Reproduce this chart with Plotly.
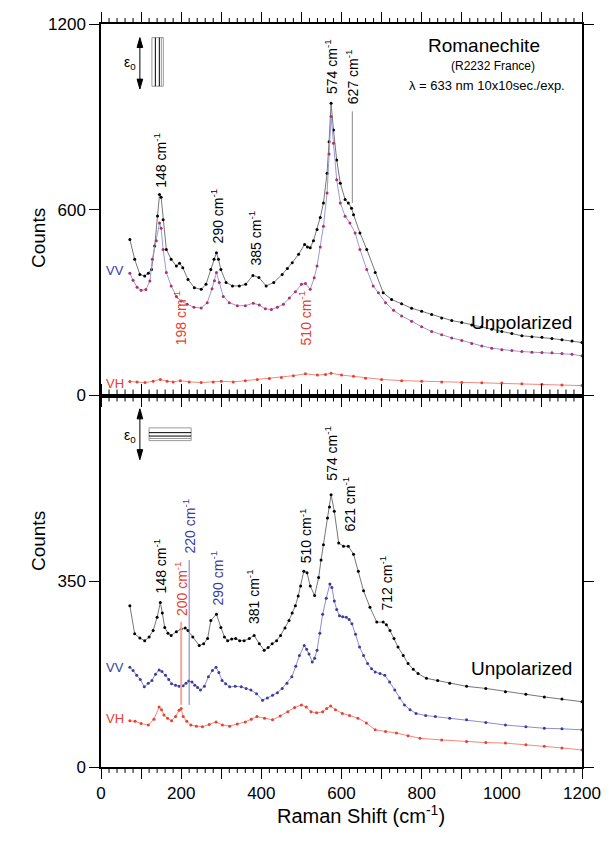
import plotly.graph_objects as go

# ---- Romanechite (R2232 France) polarized Raman spectra ----

# Upper panel (first orientation)
top_unpol_x = [72, 84, 97, 109, 118, 126, 134, 141, 146, 150, 155, 163, 175, 188, 196, 204, 217, 233, 250, 262,
               274, 282, 288, 293, 299, 312, 328, 345, 361, 379, 394, 412, 431, 452, 465, 477, 493, 508, 515, 522,
               530, 539, 547, 555, 564, 569, 574, 580, 588, 597, 609, 617, 625, 630, 646, 663, 684, 704, 725, 750,
               775, 800, 825, 850, 875, 900, 925, 950, 975, 1000, 1025, 1050, 1075, 1100, 1125, 1150, 1175, 1200]
top_unpol_y = [504, 440, 391, 386, 395, 407, 483, 580, 649, 640, 568, 472, 440, 418, 427, 413, 375, 348, 343, 359,
               407, 440, 461, 440, 407, 365, 354, 354, 359, 388, 381, 354, 365, 391, 410, 429, 456, 488, 480, 477,
               500, 536, 575, 622, 718, 820, 944, 858, 761, 686, 633, 622, 605, 584, 525, 472, 397, 332, 310, 296,
               282, 272, 262, 250, 242, 236, 228, 222, 214, 207, 200, 193, 190, 188, 184, 180, 176, 171]

top_vv_x = [72, 80, 90, 100, 112, 122, 128, 138, 146, 150, 155, 163, 175, 188, 200, 215, 232, 250, 265, 277,
            283, 288, 295, 305, 320, 340, 360, 380, 395, 410, 425, 440, 455, 470, 485, 500, 510, 522, 532, 539,
            547, 555, 564, 569, 574, 580, 588, 597, 609, 621, 634, 646, 663, 679, 692, 710, 730, 750, 775, 800,
            825, 850, 875, 900, 925, 950, 975, 1000, 1025, 1050, 1075, 1100, 1125, 1150, 1175, 1200]
top_vv_y = [395, 372, 350, 340, 342, 370, 440, 500, 557, 540, 472, 397, 354, 320, 305, 295, 285, 283, 300, 345,
            371, 397, 365, 320, 300, 290, 290, 298, 292, 280, 278, 285, 295, 315, 335, 359, 362, 343, 380, 418,
            480, 547, 654, 780, 901, 815, 697, 622, 579, 557, 525, 472, 407, 354, 332, 300, 275, 257, 240, 222,
            207, 196, 186, 178, 168, 160, 153, 148, 145, 142, 140, 139, 138, 136, 133, 128]

top_vh_x = [72, 90, 110, 130, 148, 165, 180, 198, 220, 250, 280, 300, 330, 360, 390, 420, 450, 480, 510, 540,
            560, 574, 600, 630, 660, 700, 750, 800, 850, 900, 950, 1000, 1050, 1100, 1150, 1200]
top_vh_y = [45, 44, 42, 46, 52, 46, 44, 48, 44, 42, 44, 46, 44, 48, 52, 55, 58, 64, 70, 66,
            68, 72, 66, 62, 56, 52, 48, 46, 44, 42, 41, 40, 38, 36, 34, 32]

# Lower panel (second orientation)
bot_unpol_x = [72, 84, 97, 109, 120, 130, 140, 148, 153, 159, 167, 175, 188, 200, 210, 217, 229, 245, 256, 266,
               274, 288, 299, 308, 316, 326, 336, 346, 357, 370, 382, 395, 407, 417, 427, 438, 448, 459, 469, 477,
               485, 492, 498, 506, 514, 522, 533, 543, 549, 555, 565, 570, 574, 582, 593, 605, 617, 630, 642, 655,
               671, 688, 704, 712, 721, 731, 741, 754, 766, 779, 791, 812, 840, 870, 912, 960, 1009, 1060, 1106,
               1150, 1200]
bot_unpol_y = [304, 251, 243, 238, 245, 257, 282, 310, 290, 263, 252, 248, 255, 260, 262, 257, 245, 229, 232, 242,
               276, 288, 263, 245, 238, 241, 242, 238, 238, 242, 248, 232, 220, 225, 232, 238, 248, 262, 276, 290,
               304, 322, 341, 369, 366, 341, 323, 357, 390, 419, 469, 490, 513, 482, 422, 416, 416, 401, 369, 332,
               301, 273, 273, 268, 257, 242, 226, 210, 195, 184, 176, 167, 163, 158, 152, 148, 142, 137, 132,
               128, 123]

bot_vv_x = [72, 80, 89, 98, 108, 118, 127, 136, 145, 152, 161, 169, 176, 186, 195, 205, 212, 219, 227, 234,
            241, 248, 258, 268, 278, 287, 294, 302, 311, 321, 335, 350, 362, 374, 388, 403, 415, 428, 440, 452,
            464, 476, 486, 495, 507, 513, 519, 527, 533, 539, 546, 553, 562, 571, 576, 582, 588, 595, 603, 612,
            619, 626, 635, 645, 655, 665, 675, 684, 696, 708, 720, 733, 745, 757, 771, 786, 810, 834, 870, 912,
            960, 1009, 1060, 1106, 1150, 1200]
bot_vv_y = [188, 182, 173, 165, 151, 158, 163, 175, 183, 180, 173, 165, 157, 154, 152, 153, 158, 162, 160, 154,
            150, 145, 152, 170, 182, 188, 178, 163, 157, 151, 152, 151, 148, 145, 138, 126, 130, 135, 140, 148,
            158, 170, 190, 210, 229, 222, 213, 198, 205, 220, 252, 288, 318, 345, 338, 313, 297, 285, 283, 282,
            278, 270, 250, 226, 210, 195, 185, 179, 176, 173, 160, 145, 130, 117, 108, 101, 97, 95, 92, 89,
            84, 79, 76, 73, 72, 70]

bot_vh_x = [72, 85, 100, 118, 132, 145, 151, 157, 166, 176, 186, 195, 200, 205, 214, 224, 238, 253, 270, 287,
            303, 321, 340, 360, 375, 389, 408, 428, 447, 466, 483, 500, 512, 524, 538, 553, 563, 573, 585, 602,
            620, 641, 662, 684, 710, 737, 766, 796, 850, 912, 960, 1009, 1060, 1106, 1150, 1200]
bot_vh_y = [87, 86, 82, 79, 90, 113, 108, 98, 92, 87, 95, 107, 110, 95, 86, 79, 77, 76, 80, 85,
            79, 77, 81, 85, 90, 95, 92, 89, 96, 104, 112, 117, 113, 104, 102, 104, 110, 115, 108, 101,
            97, 92, 83, 70, 67, 64, 59, 54, 51, 48, 46, 45, 42, 39, 36, 32]

# Peak annotations: (wavenumber, label baseline in counts, colour key)
top_peaks = [(148, 664, "k"), (290, 484, "k"), (385, 413, "k"),
             (574, 966, "k"), (627, 934, "k"), (198, 155, "r"), (510, 155, "r")]
bot_peaks = [(148, 323, "k"), (200, 280, "r"), (220, 398, "b"), (290, 300, "b"),
             (381, 266, "k"), (510, 380, "k"), (574, 535, "k"), (621, 441, "k"), (712, 291, "k")]

# Axis ticks: long ticks every 100 (labelled every 200), short ticks every 20
x_major_ticks = list(range(0, 1201, 100))
x_major_text = [str(v) if v % 200 == 0 else "" for v in x_major_ticks]
x_minor_ticks = [v for v in range(0, 1201, 20) if v % 100 != 0]

FONT = "Liberation Sans, Arial, sans-serif"
BLUE = "#3c3ca0"
RED = "#e8402e"
COLORS = {"k": "black", "r": RED, "b": BLUE}

fig = go.Figure()


def spectrum(x, y, marker_color, line_color, xa, ya):
    fig.add_trace(go.Scatter(
        x=x, y=y, mode="lines+markers", xaxis=xa, yaxis=ya, showlegend=False,
        line=dict(color=line_color, width=1),
        marker=dict(color=marker_color, size=3),
    ))


spectrum(top_unpol_x, top_unpol_y, "black", "#777777", "x", "y")
spectrum(top_vv_x, top_vv_y, "#b03068", "#9a9ad8", "x", "y")
spectrum(top_vh_x, top_vh_y, RED, "#f08a80", "x", "y")
spectrum(bot_unpol_x, bot_unpol_y, "black", "#777777", "x2", "y2")
spectrum(bot_vv_x, bot_vv_y, BLUE, "#8c8ed0", "x2", "y2")
spectrum(bot_vh_x, bot_vh_y, RED, "#f08a80", "x2", "y2")

annotations = []
for xr, yr, peaks in (("x", "y", top_peaks), ("x2", "y2", bot_peaks)):
    for wn, base, ck in peaks:
        annotations.append(dict(
            x=wn, y=base, xref=xr, yref=yr, text=f"{wn} cm<sup>-1</sup>",
            textangle=-90, showarrow=False, xanchor="center", yanchor="bottom",
            font=dict(family=FONT, size=14, color=COLORS[ck])))

# Series names
for xr, yr, vv_y, vh_y, un_y in (("x", "y", 403, 40, 236), ("x2", "y2", 188, 92, 186)):
    annotations.append(dict(x=35, y=vv_y, xref=xr, yref=yr, text="VV", showarrow=False,
                            font=dict(family=FONT, size=13, color=BLUE)))
    annotations.append(dict(x=35, y=vh_y, xref=xr, yref=yr, text="VH", showarrow=False,
                            font=dict(family=FONT, size=13, color=RED)))
    annotations.append(dict(x=1049, y=un_y, xref=xr, yref=yr, text="Unpolarized", showarrow=False,
                            font=dict(family=FONT, size=19, color="black")))

annotations += [
    dict(x=955, y=1130, xref="x", yref="y", text="Romanechite", showarrow=False,
         font=dict(family=FONT, size=19, color="black")),
    dict(x=979, y=1063, xref="x", yref="y", text="(R2232 France)", showarrow=False,
         font=dict(family=FONT, size=12, color="black")),
    dict(x=962, y=1001, xref="x", yref="y", text="λ = 633 nm 10x10sec./exp.", showarrow=False,
         font=dict(family=FONT, size=13, color="black")),
    dict(x=72, y=1073, xref="x", yref="y", text="ε<sub>0</sub>", showarrow=False,
         font=dict(family=FONT, size=14, color="black")),
    dict(x=72, y=624, xref="x2", yref="y2", text="ε<sub>0</sub>", showarrow=False,
         font=dict(family=FONT, size=14, color="black")),
    # axis titles
    dict(x=-0.157, y=0.755, xref="paper", yref="paper", text="Counts", textangle=-90, showarrow=False,
         font=dict(family=FONT, size=19, color="black")),
    dict(x=-0.157, y=0.261, xref="paper", yref="paper", text="Counts", textangle=-90, showarrow=False,
         font=dict(family=FONT, size=19, color="black")),
    dict(x=0.54, y=-0.083, xref="paper", yref="paper", text="Raman Shift (cm<sup>-1</sup>)",
         showarrow=False, font=dict(family=FONT, size=20, color="black")),
]


def double_arrow(xr, yr, xc, y_top, y_bot, head_w, head_h):
    """Vertical polarization arrow with filled heads at both ends."""
    line = dict(type="line", xref=xr, yref=yr, x0=xc, x1=xc, y0=y_bot + head_h * 0.5,
                y1=y_top - head_h * 0.5, line=dict(color="black", width=1))
    up = dict(type="path", xref=xr, yref=yr, fillcolor="black", line=dict(color="black", width=1),
              path=f"M {xc - head_w} {y_top - head_h} L {xc} {y_top} L {xc + head_w} {y_top - head_h} Z")
    down = dict(type="path", xref=xr, yref=yr, fillcolor="black", line=dict(color="black", width=1),
                path=f"M {xc - head_w} {y_bot + head_h} L {xc} {y_bot} L {xc + head_w} {y_bot + head_h} Z")
    return [line, up, down]


def tick_comb(xref, y_edge, direction, length_px=6, plot_h_px=746):
    """Short x-axis ticks drawn along a horizontal frame edge (paper y)."""
    dy = direction * length_px / plot_h_px
    path = " ".join(f"M {v} {y_edge} L {v} {y_edge + dy}" for v in x_minor_ticks)
    return dict(type="path", xref=xref, yref="paper", path=path,
                line=dict(color="black", width=1))


shapes = [
    # crystal orientation sketches
    dict(type="rect", xref="x", yref="y", x0=127, x1=155.5, y0=999, y1=1156,
         line=dict(color="#999999", width=1)),
    dict(type="line", xref="x", yref="y", x0=135.6, x1=135.6, y0=999, y1=1156,
         line=dict(color="black", width=1)),
    dict(type="line", xref="x", yref="y", x0=145.5, x1=145.5, y0=999, y1=1156,
         line=dict(color="black", width=1)),
    dict(type="line", xref="x", yref="y", x0=150.5, x1=150.5, y0=999, y1=1156,
         line=dict(color="#999999", width=1)),
    dict(type="rect", xref="x2", yref="y2", x0=119.8, x1=224.9, y0=615, y1=639,
         line=dict(color="#999999", width=1)),
    dict(type="line", xref="x2", yref="y2", x0=119.8, x1=224.9, y0=630, y1=630,
         line=dict(color="black", width=1)),
    dict(type="line", xref="x2", yref="y2", x0=119.8, x1=224.9, y0=623.6, y1=623.6,
         line=dict(color="black", width=1)),
    dict(type="line", xref="x2", yref="y2", x0=119.8, x1=224.9, y0=619, y1=619,
         line=dict(color="#999999", width=1)),
    # peak marker lines
    dict(type="line", xref="x", yref="y", x0=627, x1=627, y0=622, y1=918,
         line=dict(color="#888888", width=1)),
    dict(type="line", xref="x2", yref="y2", x0=200, x1=200, y0=117, y1=274,
         line=dict(color="#f4a89c", width=2)),
    dict(type="line", xref="x2", yref="y2", x0=220, x1=220, y0=117, y1=390,
         line=dict(color="#7c7cc0", width=1)),
    # short ticks every 20 cm-1 on all horizontal frame edges
    tick_comb("x", 1.0, +1),
    tick_comb("x", 0.5, -1),
    tick_comb("x2", 0.5, +1),
    tick_comb("x2", 0.0, -1),
]
shapes += double_arrow("x", "y", 97, 1156, 990, 7, 32)
shapes += double_arrow("x2", "y2", 97, 675, 579, 7, 19)

xaxis_common = dict(
    range=[0, 1200], tickmode="array", tickvals=x_major_ticks, ticktext=x_major_text,
    ticks="outside", ticklen=10, tickwidth=1, tickcolor="black",
    showline=True, linecolor="black", linewidth=1.5, mirror="allticks",
    showgrid=False, zeroline=False,
    tickfont=dict(family=FONT, size=17, color="black"),
)
yaxis_common = dict(
    ticks="outside", ticklen=10, tickwidth=1, tickcolor="black",
    showline=True, linecolor="black", linewidth=1.5, mirror="allticks",
    showgrid=False, zeroline=False,
    tickfont=dict(family=FONT, size=17, color="black"),
)

fig.update_layout(
    width=613, height=843,
    margin=dict(l=101, r=27, t=21, b=76),
    paper_bgcolor="white", plot_bgcolor="white",
    xaxis=dict(xaxis_common, anchor="y", showticklabels=False),
    xaxis2=dict(xaxis_common, anchor="y2"),
    yaxis=dict(yaxis_common, domain=[0.5, 1.0], anchor="x", range=[0, 1200],
               tickvals=[0, 600, 1200]),
    yaxis2=dict(yaxis_common, domain=[0.0, 0.5], anchor="x2", range=[0, 700],
                tickvals=[0, 350]),
    annotations=annotations,
    shapes=shapes,
)

fig.write_html("out.html")
